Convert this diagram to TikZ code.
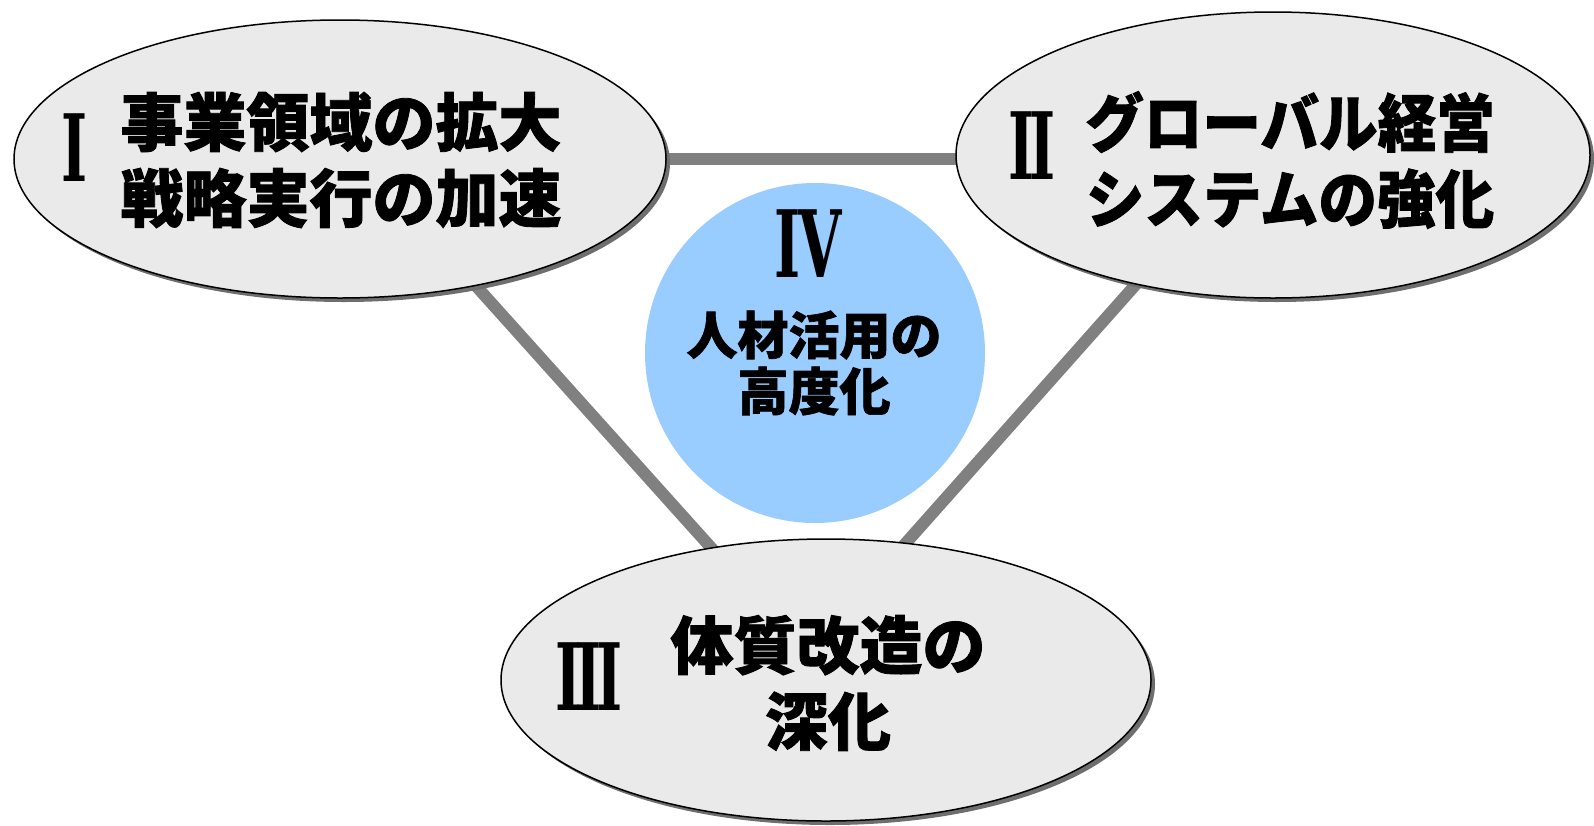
\documentclass[tikz,border=0pt]{standalone}
\usepackage{fontspec}
\newfontfamily\jp{Noto Sans CJK JP}[BoldFeatures={FakeBold=1.3}]
\newfontfamily\rom{DejaVu Serif}
\usetikzlibrary{shapes.geometric,shadows,backgrounds}
\definecolor{ellfill}{HTML}{EAEAEA}
\definecolor{shadegray}{HTML}{6E6E6E}
\definecolor{linegray}{HTML}{808080}
\definecolor{bluefill}{HTML}{99CCFF}
\newcommand{\romI}{\scalebox{0.6}[1]{I}}
\newcommand{\romII}{\scalebox{0.6}[1]{I\kern-0.1em I}}
\newcommand{\romIII}{\scalebox{0.6}[1]{I\kern-0.1em I\kern-0.1em I}}
\newcommand{\romIV}{\scalebox{0.6}[1]{I\kern-0.04em V}}
\begin{document}
\begin{tikzpicture}[x=1pt,y=-1pt,
  oval/.style={ellipse, draw=black, line width=1.5pt, fill=ellfill, inner sep=0pt,
    drop shadow={shadow xshift=4pt, shadow yshift=-4pt, fill=shadegray, opacity=1}},
  disc/.style={circle, fill=bluefill, inner sep=0pt},
  link/.style={line width=12pt, draw=linegray},
  jptext/.style={font=\jp\bfseries\fontsize{63}{76}\selectfont, align=center, inner sep=0pt},
  jpsmall/.style={font=\jp\bfseries\fontsize{51}{56}\selectfont, align=center, inner sep=0pt},
  romtext/.style={font=\rom\bfseries\fontsize{93}{93}\selectfont, inner sep=0pt}]
\useasboundingbox (0,0) rectangle (1594,825);
\node[oval, minimum width=652, minimum height=278] (e1) at (340,159) {};
\node[oval, minimum width=634, minimum height=286] (e2) at (1273,155) {};
\node[oval, minimum width=650, minimum height=282] (e3) at (826,680) {};
\node[disc, minimum size=340] (c4) at (815,353) {};
\coordinate (a13) at (362,159);
\coordinate (b13) at (830,680);
\coordinate (a23) at (1251,155);
\coordinate (b23) at (784,680);
\begin{scope}[on background layer]
\draw[link] (e1.center) -- (e2.center |- e1.center);
\draw[link] (a13) -- (b13);
\draw[link] (a23) -- (b23);
\end{scope}
\node[romtext] (r1) at (75,148) {\romI};
\node[jptext] (t1) at (341,160) {事業領域の拡大\\戦略実行の加速};
\node[romtext] (r2) at (1032,146) {\romII};
\node[jptext] (t2) at (1290,160) {\scalebox{0.93}[1]{グローバル経営}\\\scalebox{0.93}[1]{システムの強化}};
\node[romtext] (r3) at (589,677) {\romIII};
\node[jptext] (t3) at (828,683) {体質改造の\\深化};
\node[romtext] (r4) at (808,244) {\romIV};
\node[jpsmall] (t4) at (814,363) {人材活用の\\高度化};
\end{tikzpicture}
\end{document}
